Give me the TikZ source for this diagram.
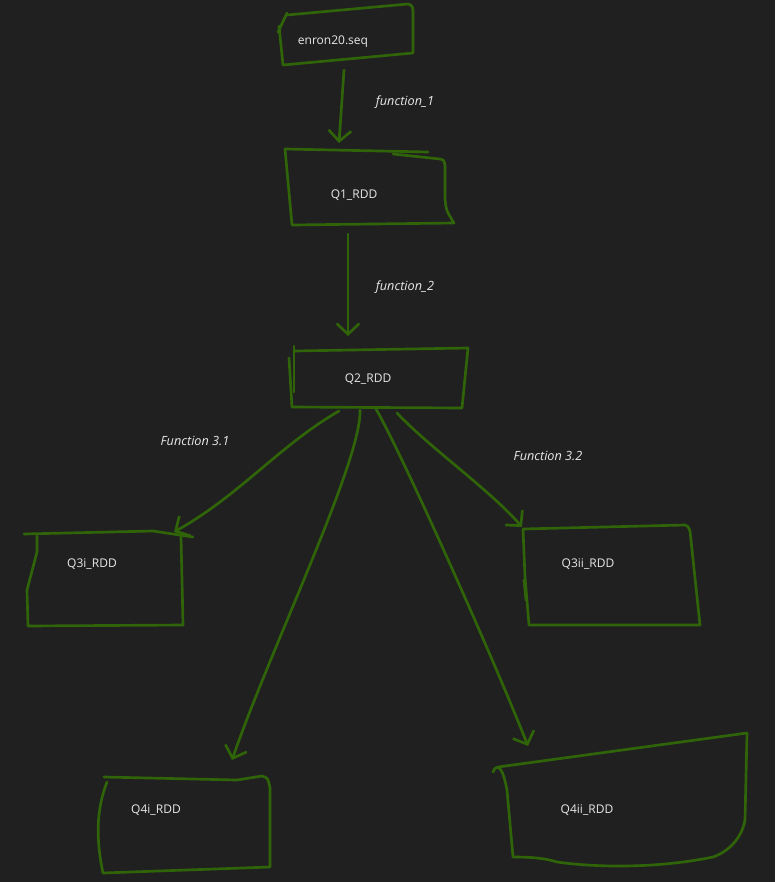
\documentclass[tikz,border=0pt]{standalone}
\usepackage{fontspec}
\setmainfont{Open Sans}
\usetikzlibrary{arrows.meta}
\definecolor{bgc}{RGB}{32,32,32}
\definecolor{pen}{RGB}{48,100,8}
\definecolor{txt}{RGB}{232,232,232}
\tikzset{
  hand/.style={draw=pen, line width=2pt, line cap=round, line join=round},
  conn/.style={hand, -{Straight Barb[length=8pt,width=17pt,line width=2pt]}},
  lbl/.style={text=txt, font=\fontsize{9}{11}\selectfont, inner sep=0pt},
  fn/.style={text=txt, font=\fontsize{9.5}{11}\selectfont\itshape, inner sep=0pt}
}
\begin{document}
\begin{tikzpicture}[x=0.75pt,y=-0.75pt]
\fill[bgc] (0,0) rectangle (775,882);
\useasboundingbox (0,0) rectangle (775,882);

% text nodes
\node[lbl] (enron) at (333,42) {enron20.seq};
\node[lbl] (q1) at (354,195) {Q1\_RDD};
\node[lbl] (q2) at (368,379) {Q2\_RDD};
\node[lbl] (q3i) at (92,564) {Q3i\_RDD};
\node[lbl] (q3ii) at (588,564) {Q3ii\_RDD};
\node[lbl] (q4i) at (156,810) {Q4i\_RDD};
\node[lbl] (q4ii) at (587,810) {Q4ii\_RDD};
\node[fn] (f1) at (405,102) {function\_1};
\node[fn] (f2) at (405,287) {function\_2};
\node[fn] (f31) at (195,441) {Function 3.1};
\node[fn] (f32) at (548,456) {Function 3.2};

% hand drawn boxes
\draw[hand] (287,13) -- (278,32);
\draw[hand] (287,15) -- (408,4) .. controls (413,5) and (413,8) .. (413,14) -- (413,53) -- (283,65) -- (279,26);

\draw[hand] (285,149) -- (428,152);
\draw[hand] (393,154) -- (440,159) .. controls (444,160) .. (445,166) -- (445,198) .. controls (446,210) .. (454,223) -- (292,225) -- (285,149);

\draw[hand] (294,392) -- (294,346);
\draw[hand] (294,351) -- (468,348) -- (462,408) -- (292,407) -- (289,358);

\draw[hand] (24,534) -- (153,531) -- (173,534) -- (193,537);
\draw[hand] (181,537) -- (183,625) -- (28,626) -- (27,590) -- (37,552) -- (37,536);

\draw[hand] (523,529) -- (685,525) .. controls (688,526) .. (690,531) -- (700,625) -- (529,625) -- (525,577) -- (523,529);
\draw[hand] (524,580) -- (526,600);

\draw[hand] (104,777) -- (237,780) -- (262,776) .. controls (268,778) .. (270,788) -- (270,867) -- (103,873) .. controls (96,840) and (96,810) .. (107,782);

\draw[hand] (493,772) .. controls (495,768) .. (498,767) -- (747,733) -- (745,820) .. controls (742,838) and (728,852) .. (713,857) .. controls (660,868) and (600,868) .. (557,862) .. controls (545,858) and (530,857) .. (513,857) -- (507,790) .. controls (504,775) and (502,770) .. (498,767);

% connector end points
\coordinate (e1s) at (344,70);
\coordinate (e1t) at (339,143);
\coordinate (e2s) at (348,234);
\coordinate (e2t) at (348,336);
\coordinate (a1s) at (339,411);
\coordinate (a1t) at (174,532);
\coordinate (a2s) at (360,410);
\coordinate (a2t) at (232,760);
\coordinate (a3s) at (376,409);
\coordinate (a3t) at (528,746);
\coordinate (a4s) at (397,413);
\coordinate (a4t) at (522,527);

\draw[conn] (e1s) -- (e1t);
\draw[conn] (e2s) -- (e2t);
\draw[conn] (a1s) .. controls (280,445) and (240,495) .. (a1t);
\draw[conn] (a2s) .. controls (362,460) and (270,650) .. (a2t);
\draw[conn] (a3s) .. controls (400,450) and (490,650) .. (a3t);
\draw[conn] (a4s) .. controls (430,448) and (490,490) .. (a4t);
\end{tikzpicture}
\end{document}
